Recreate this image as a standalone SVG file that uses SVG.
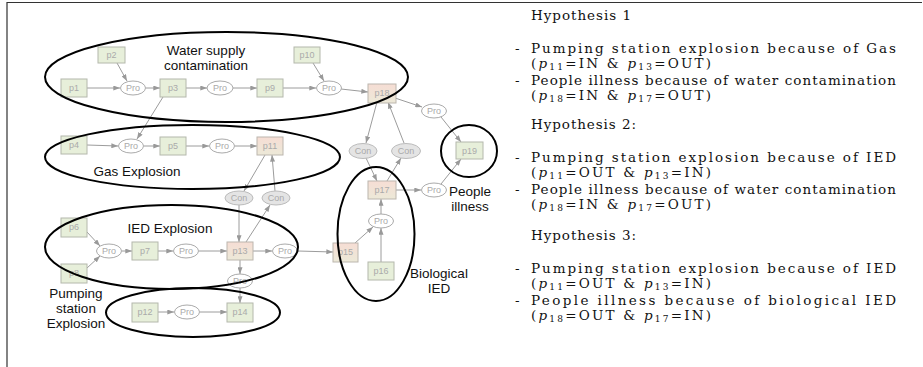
<svg xmlns="http://www.w3.org/2000/svg" width="923" height="367" viewBox="0 0 923 367">
<defs>
<linearGradient id="red" x1="0" y1="0" x2="0" y2="1">
<stop offset="0" stop-color="#f6ddd4"/>
<stop offset="1" stop-color="#ece9d8"/>
</linearGradient>
<marker id="ah" viewBox="0 0 8 6" refX="8" refY="3" markerWidth="7" markerHeight="5" markerUnits="userSpaceOnUse" orient="auto">
<path d="M0,0 L8,3 L0,6 Z" fill="#999"/>
</marker>
</defs>
<style>
.bx{fill:#e7efda;stroke:#b4b8ac;stroke-width:1}
.rd{fill:url(#red);stroke:#bcb6ae;stroke-width:1}
.pro{fill:#fff;stroke:#aaa;stroke-width:1}
.con{fill:#e4e4e4;stroke:#bbb;stroke-width:1}
.nt{font-family:"Liberation Sans",Arial,sans-serif;font-size:9px;fill:#aaa;text-anchor:middle}
.big{fill:none;stroke:#000;stroke-width:2}
.lb{font-family:"Liberation Sans",Arial,sans-serif;font-size:13.5px;fill:#111;text-anchor:middle}
.ed line{stroke:#9c9c9c;stroke-width:1;marker-end:url(#ah)}
.tx{font-family:"DejaVu Serif","Liberation Serif",serif;font-size:13.5px;fill:#111}
.sb{font-size:9px}
.it{font-style:italic}
</style>
<rect width="923" height="367" fill="#fff"/>
<path d="M7,367 V2.5 H922" fill="none" stroke="#333" stroke-width="1.2"/>

<g id="connectors" class="ed">
<line x1="87" y1="88" x2="120" y2="88"/>
<line x1="117" y1="63" x2="127" y2="81"/>
<line x1="146" y1="88" x2="160" y2="88"/>
<line x1="186" y1="88" x2="207" y2="88"/>
<line x1="233" y1="88" x2="257" y2="88"/>
<line x1="283" y1="88" x2="316" y2="88"/>
<line x1="313" y1="63" x2="324" y2="81"/>
<line x1="341" y1="89" x2="368" y2="92"/>
<line x1="395" y1="98" x2="422" y2="107"/>
<line x1="441" y1="117" x2="461" y2="142"/>
<line x1="377" y1="102" x2="366" y2="143"/>
<line x1="404" y1="143" x2="388" y2="102"/>
<line x1="366" y1="158" x2="377" y2="181"/>
<line x1="387" y1="181" x2="401" y2="158"/>
<line x1="396" y1="190" x2="421" y2="190"/>
<line x1="441" y1="184" x2="461" y2="159"/>
<line x1="163" y1="97" x2="137" y2="139"/>
<line x1="87" y1="145" x2="118" y2="146"/>
<line x1="144" y1="146" x2="160" y2="146"/>
<line x1="186" y1="146" x2="209" y2="146"/>
<line x1="235" y1="146" x2="257" y2="146"/>
<line x1="265" y1="155" x2="244" y2="191"/>
<line x1="275" y1="191" x2="272" y2="155"/>
<line x1="239" y1="205" x2="239" y2="242"/>
<line x1="246" y1="242" x2="270" y2="205"/>
<line x1="87" y1="232" x2="100" y2="246"/>
<line x1="87" y1="268" x2="100" y2="256"/>
<line x1="122" y1="251" x2="132" y2="251"/>
<line x1="158" y1="251" x2="173" y2="251"/>
<line x1="199" y1="251" x2="227" y2="251"/>
<line x1="253" y1="251" x2="272" y2="251"/>
<line x1="298" y1="251" x2="333" y2="252"/>
<line x1="240" y1="260" x2="240" y2="274"/>
<line x1="240" y1="288" x2="240" y2="303"/>
<line x1="158" y1="312" x2="174" y2="312"/>
<line x1="200" y1="312" x2="227" y2="312"/>
<line x1="355" y1="243" x2="373" y2="227"/>
<line x1="381" y1="262" x2="381" y2="228"/>
<line x1="381" y1="214" x2="381" y2="199"/>
</g>

<g id="p1"><rect class="bx" x="61" y="79" width="26" height="18"/><text class="nt" x="74" y="91">p1</text></g>
<g id="p2"><rect class="bx" x="98" y="47" width="27" height="16"/><text class="nt" x="111.5" y="58">p2</text></g>
<g id="p3"><rect class="bx" x="160" y="79" width="26" height="18"/><text class="nt" x="173" y="91">p3</text></g>
<g id="p9"><rect class="bx" x="257" y="79" width="26" height="18"/><text class="nt" x="270" y="91">p9</text></g>
<g id="p10"><rect class="bx" x="294" y="47" width="26" height="16"/><text class="nt" x="307" y="58">p10</text></g>
<g id="p18"><rect class="rd" x="368" y="84" width="28" height="19"/><text class="nt" x="382" y="96">p18</text></g>
<g id="p19"><rect class="bx" x="456" y="142" width="27" height="17"/><text class="nt" x="469.5" y="154">p19</text></g>
<g id="p4"><rect class="bx" x="61" y="136" width="26" height="18"/><text class="nt" x="74" y="148">p4</text></g>
<g id="p5"><rect class="bx" x="160" y="137" width="26" height="18"/><text class="nt" x="173" y="149">p5</text></g>
<g id="p11"><rect class="rd" x="257" y="137" width="26" height="18"/><text class="nt" x="270" y="149">p11</text></g>
<g id="p17"><rect class="rd" x="368" y="181" width="28" height="18"/><text class="nt" x="382" y="193">p17</text></g>
<g id="p6"><rect class="bx" x="61" y="218" width="26" height="19"/><text class="nt" x="74" y="230">p6</text></g>
<g id="p8"><rect class="bx" x="61" y="264" width="26" height="19"/><text class="nt" x="74" y="276">p8</text></g>
<g id="p7"><rect class="bx" x="132" y="242" width="26" height="18"/><text class="nt" x="145" y="254">p7</text></g>
<g id="p13"><rect class="rd" x="227" y="242" width="26" height="18"/><text class="nt" x="240" y="254">p13</text></g>
<g id="p12"><rect class="bx" x="132" y="303" width="26" height="19"/><text class="nt" x="145" y="315">p12</text></g>
<g id="p14"><rect class="bx" x="227" y="303" width="26" height="19"/><text class="nt" x="240" y="315">p14</text></g>
<g id="p15"><rect class="rd" x="333" y="243" width="25" height="19"/><text class="nt" x="345.5" y="255">p15</text></g>
<g id="p16"><rect class="bx" x="368" y="262" width="26" height="18"/><text class="nt" x="381" y="274">p16</text></g>

<g id="pro1"><ellipse class="pro" cx="133" cy="88" rx="12.5" ry="7"/><text class="nt" x="133" y="91">Pro</text></g>
<g id="pro2"><ellipse class="pro" cx="220" cy="88" rx="13" ry="7"/><text class="nt" x="220" y="91">Pro</text></g>
<g id="pro3"><ellipse class="pro" cx="329" cy="88" rx="12.5" ry="7"/><text class="nt" x="329" y="91">Pro</text></g>
<g id="pro4"><ellipse class="pro" cx="434" cy="111" rx="12.5" ry="7"/><text class="nt" x="434" y="114">Pro</text></g>
<g id="pro5"><ellipse class="pro" cx="131" cy="146" rx="12.5" ry="7"/><text class="nt" x="131" y="149">Pro</text></g>
<g id="pro6"><ellipse class="pro" cx="222" cy="146" rx="12.5" ry="7"/><text class="nt" x="222" y="149">Pro</text></g>
<g id="pro7"><ellipse class="pro" cx="109" cy="251" rx="12.5" ry="7"/><text class="nt" x="109" y="254">Pro</text></g>
<g id="pro8"><ellipse class="pro" cx="186" cy="251" rx="12.5" ry="7"/><text class="nt" x="186" y="254">Pro</text></g>
<g id="pro9"><ellipse class="pro" cx="285" cy="251" rx="12.5" ry="7"/><text class="nt" x="285" y="254">Pro</text></g>
<g id="pro10"><ellipse class="pro" cx="240" cy="281" rx="12.5" ry="7"/><text class="nt" x="240" y="284">Pro</text></g>
<g id="pro11"><ellipse class="pro" cx="187" cy="312" rx="12.5" ry="7"/><text class="nt" x="187" y="315">Pro</text></g>
<g id="pro12"><ellipse class="pro" cx="381" cy="221" rx="12.5" ry="7"/><text class="nt" x="381" y="224">Pro</text></g>
<g id="pro13"><ellipse class="pro" cx="434" cy="190" rx="12.5" ry="7"/><text class="nt" x="434" y="193">Pro</text></g>

<g id="con1"><ellipse class="con" cx="363" cy="151" rx="14" ry="7.5"/><text class="nt" x="363" y="154">Con</text></g>
<g id="con2"><ellipse class="con" cx="406" cy="151" rx="14.5" ry="7.5"/><text class="nt" x="406" y="154">Con</text></g>
<g id="con3"><ellipse class="con" cx="239" cy="198" rx="14" ry="7"/><text class="nt" x="239" y="201">Con</text></g>
<g id="con4"><ellipse class="con" cx="276" cy="198" rx="14" ry="7"/><text class="nt" x="276" y="201">Con</text></g>

<g id="water-supply">
<ellipse class="big" cx="226.5" cy="77" rx="181.5" ry="45"/>
<text class="lb" x="206" y="55">Water supply</text>
<text class="lb" x="206" y="70">contamination</text>
</g>
<g id="gas-explosion">
<ellipse class="big" cx="192.5" cy="157" rx="147.5" ry="32"/>
<text class="lb" x="137" y="176">Gas Explosion</text>
</g>
<g id="ied-explosion">
<ellipse class="big" cx="171.5" cy="247" rx="126.5" ry="42"/>
<text class="lb" x="170" y="233">IED Explosion</text>
</g>
<g id="pumping-station">
<ellipse class="big" cx="193" cy="312.5" rx="87" ry="24.5"/>
<text class="lb" x="76" y="298">Pumping</text>
<text class="lb" x="76" y="313">station</text>
<text class="lb" x="76" y="328">Explosion</text>
</g>
<g id="biological-ied">
<ellipse class="big" cx="376" cy="234" rx="38.5" ry="67"/>
<text class="lb" x="439" y="278">Biological</text>
<text class="lb" x="439" y="293">IED</text>
</g>
<g id="people-illness">
<ellipse class="big" cx="469" cy="151" rx="28" ry="26"/>
<text class="lb" x="470" y="196">People</text>
<text class="lb" x="470" y="211">illness</text>
</g>

<g id="hypotheses" class="tx">
<text x="531" y="20" textLength="100" lengthAdjust="spacing">Hypothesis 1</text>
<text x="515" y="53">-</text>
<text x="531" y="53" textLength="365" lengthAdjust="spacing">Pumping station explosion because of Gas</text>
<text x="531" y="68" textLength="180" lengthAdjust="spacing">(<tspan class="it">p</tspan><tspan class="sb" dy="2">11</tspan><tspan dy="-2">=IN &amp; </tspan><tspan class="it">p</tspan><tspan class="sb" dy="2">13</tspan><tspan dy="-2">=OUT)</tspan></text>
<text x="515" y="85">-</text>
<text x="531" y="85" textLength="365" lengthAdjust="spacing">People illness because of water contamination</text>
<text x="531" y="100" textLength="180" lengthAdjust="spacing">(<tspan class="it">p</tspan><tspan class="sb" dy="2">18</tspan><tspan dy="-2">=IN &amp; </tspan><tspan class="it">p</tspan><tspan class="sb" dy="2">17</tspan><tspan dy="-2">=OUT)</tspan></text>

<text x="531" y="129" textLength="105" lengthAdjust="spacing">Hypothesis 2:</text>
<text x="515" y="162">-</text>
<text x="531" y="162" textLength="365" lengthAdjust="spacing">Pumping station explosion because of IED</text>
<text x="531" y="177" textLength="180" lengthAdjust="spacing">(<tspan class="it">p</tspan><tspan class="sb" dy="2">11</tspan><tspan dy="-2">=OUT &amp; </tspan><tspan class="it">p</tspan><tspan class="sb" dy="2">13</tspan><tspan dy="-2">=IN)</tspan></text>
<text x="515" y="194">-</text>
<text x="531" y="194" textLength="365" lengthAdjust="spacing">People illness because of water contamination</text>
<text x="531" y="209" textLength="180" lengthAdjust="spacing">(<tspan class="it">p</tspan><tspan class="sb" dy="2">18</tspan><tspan dy="-2">=IN &amp; </tspan><tspan class="it">p</tspan><tspan class="sb" dy="2">17</tspan><tspan dy="-2">=OUT)</tspan></text>

<text x="531" y="240" textLength="105" lengthAdjust="spacing">Hypothesis 3:</text>
<text x="515" y="273">-</text>
<text x="531" y="273" textLength="365" lengthAdjust="spacing">Pumping station explosion because of IED</text>
<text x="531" y="288" textLength="180" lengthAdjust="spacing">(<tspan class="it">p</tspan><tspan class="sb" dy="2">11</tspan><tspan dy="-2">=OUT &amp; </tspan><tspan class="it">p</tspan><tspan class="sb" dy="2">13</tspan><tspan dy="-2">=IN)</tspan></text>
<text x="515" y="305">-</text>
<text x="531" y="305" textLength="365" lengthAdjust="spacing">People illness because of biological IED</text>
<text x="531" y="320" textLength="180" lengthAdjust="spacing">(<tspan class="it">p</tspan><tspan class="sb" dy="2">18</tspan><tspan dy="-2">=OUT &amp; </tspan><tspan class="it">p</tspan><tspan class="sb" dy="2">17</tspan><tspan dy="-2">=IN)</tspan></text>
</g>
</svg>
